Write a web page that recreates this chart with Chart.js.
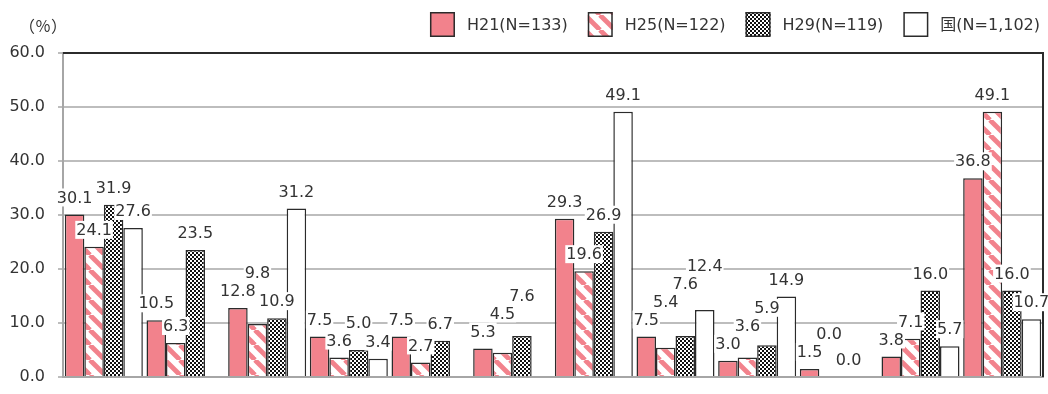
<!DOCTYPE html>
<html><head><meta charset="utf-8">
<script src="https://cdn.jsdelivr.net/npm/chart.js@4.4.1/dist/chart.umd.min.js"></script>
<style>html,body{margin:0;padding:0;background:#fff;}#wrap{width:1048px;height:394px;}</style>
</head><body><div id="wrap"><canvas id="c" width="1048" height="394"></canvas></div>
<script>
const categories = ['', '', '', '', '', '', '', '', '', '', '', ''];
const seriesNames = ['H21(N=133)', 'H25(N=122)', 'H29(N=119)', '国(N=1,102)'];
const h21 = [30.1, 10.5, 12.8, 7.5, 7.5, 5.3, 29.3, 7.5, 3.0, 1.5, 3.8, 36.8];
const h25 = [24.1, 6.3, 9.8, 3.6, 2.7, 4.5, 19.6, 5.4, 3.6, 0.0, 7.1, 49.1];
const h29 = [31.9, 23.5, 10.9, 5.0, 6.7, 7.6, 26.9, 7.6, 5.9, 0.0, 16.0, 16.0];
const national = [27.6, null, 31.2, 3.4, null, null, 49.1, 12.4, 14.9, null, 5.7, 10.7];
const yTicks = [0, 10, 20, 30, 40, 50, 60];
const unitLabel = '（％）';

const PINK = '#F2828C';
const DARK = '#2b2b2b';
const TEXT = '#333333';
const FONT = '"DejaVu Sans", "Noto Sans CJK JP", sans-serif';

const canvas = document.getElementById('c');
const ctx0 = canvas.getContext('2d');

function stripePattern() {
  const s = 15;
  const c = document.createElement('canvas'); c.width = s; c.height = s;
  const x = c.getContext('2d');
  x.fillStyle = '#fff'; x.fillRect(0, 0, s, s);
  x.strokeStyle = PINK; x.lineWidth = 4.8;
  for (const o of [-s, 0, s]) { x.beginPath(); x.moveTo(o, 0); x.lineTo(o + s, s); x.stroke(); }
  return ctx0.createPattern(c, 'repeat');
}
function checkerPattern() {
  const c = document.createElement('canvas'); c.width = 4; c.height = 4;
  const x = c.getContext('2d');
  x.fillStyle = '#fff'; x.fillRect(0, 0, 4, 4);
  x.fillStyle = '#111'; x.fillRect(0, 0, 2, 2); x.fillRect(2, 2, 2, 2);
  return ctx0.createPattern(c, 'repeat');
}

const fills = [PINK, stripePattern(), checkerPattern(), '#ffffff'];
const seriesData = [h21, h25, h29, national];

const frame = {
  id: 'frame',
  afterDatasetsDraw(chart) {
    const {ctx, chartArea: a} = chart;
    ctx.save();
    ctx.strokeStyle = DARK; ctx.lineWidth = 2;
    ctx.beginPath();
    ctx.moveTo(a.left, a.top); ctx.lineTo(a.right, a.top); ctx.lineTo(a.right, a.bottom);
    ctx.stroke();
    ctx.restore();
  }
};

const valueLabels = {
  id: 'valueLabels',
  afterDatasetsDraw(chart) {
    const ctx = chart.ctx;
    ctx.save();
    ctx.font = '16px ' + FONT;
    ctx.textAlign = 'center'; ctx.textBaseline = 'middle';
    const h = 18;
    const placed = [];
    const n = chart.data.labels.length;
    for (let i = 0; i < n; i++) {
      chart.data.datasets.forEach((ds, di) => {
        const v = ds.data[i];
        if (v === null || v === undefined) return;
        const el = chart.getDatasetMeta(di).data[i];
        const t = v.toFixed(1);
        const w = ctx.measureText(t).width + 2;
        let cx = el.x, cy = el.y - 8 - h / 2;
        let moved = true, guard = 0;
        while (moved && guard++ < 20) {
          moved = false;
          for (const p of placed) {
            if (Math.abs(p.cx - cx) < (p.w + w) / 2 - 2 && Math.abs(p.cy - cy) < h) {
              cy = p.cy - h; moved = true;
            }
          }
        }
        placed.push({cx, cy, w, t});
      });
    }
    for (const p of placed) {
      ctx.fillStyle = '#fff';
      ctx.fillRect(p.cx - p.w / 2, p.cy - h / 2, p.w, h);
      ctx.fillStyle = TEXT;
      ctx.fillText(p.t, p.cx, p.cy + 1);
    }
    ctx.restore();
  }
};

const customLegend = {
  id: 'customLegend',
  afterDraw(chart) {
    const ctx = chart.ctx;
    ctx.save();
    ctx.font = '16px ' + FONT;
    ctx.textBaseline = 'middle'; ctx.textAlign = 'left';
    const box = 25, gapText = 12, gapItem = 20, right = 1040, boxTop = 12;
    const items = chart.data.datasets.map(d => ({ds: d, w: ctx.measureText(d.label).width}));
    let total = 0;
    items.forEach((it, k) => { total += box + gapText + it.w + (k < items.length - 1 ? gapItem : 0); });
    let x = right - total;
    items.forEach(it => {
      ctx.fillStyle = it.ds.backgroundColor;
      ctx.fillRect(x, boxTop, box, box);
      ctx.strokeStyle = DARK; ctx.lineWidth = 1.5;
      ctx.strokeRect(x + 0.75, boxTop + 0.75, box - 1.5, box - 1.5);
      ctx.fillStyle = TEXT;
      ctx.fillText(it.ds.label, x + box + gapText, boxTop + box / 2 + 1);
      x += box + gapText + it.w + gapItem;
    });
    ctx.font = '16px "Noto Sans CJK JP", sans-serif';
    ctx.textAlign = 'center';
    ctx.fillText(unitLabel, 43, 26);
    ctx.restore();
  }
};

new Chart(canvas, {
  type: 'bar',
  data: {
    labels: categories,
    datasets: seriesNames.map((name, k) => ({
      label: name,
      data: seriesData[k],
      backgroundColor: fills[k],
      borderColor: DARK,
      borderWidth: 1.5,
      categoryPercentage: 0.955,
      barPercentage: 1.0
    }))
  },
  options: {
    responsive: false,
    animation: false,
    devicePixelRatio: 1,
    layout: {padding: {top: 53, right: 5, bottom: 0, left: 0}},
    plugins: {legend: {display: false}, tooltip: {enabled: false}},
    scales: {
      x: {
        grid: {display: false, drawTicks: false},
        ticks: {display: false},
        border: {display: true, color: '#A6A6A6', width: 2},
        afterFit: s => { s.height = 17; }
      },
      y: {
        min: 0, max: 60,
        afterBuildTicks: s => { s.ticks = yTicks.map(v => ({value: v})); },
        afterFit: s => { s.width = 63; s.paddingTop = 10; s.paddingBottom = 10; },
        ticks: {callback: v => Number(v).toFixed(1), font: {family: FONT, size: 16}, color: TEXT, padding: 13},
        grid: {color: '#BDBDBD', lineWidth: 2, tickLength: 5},
        border: {color: '#A6A6A6', width: 2}
      }
    }
  },
  plugins: [frame, valueLabels, customLegend]
});
</script></body></html>
